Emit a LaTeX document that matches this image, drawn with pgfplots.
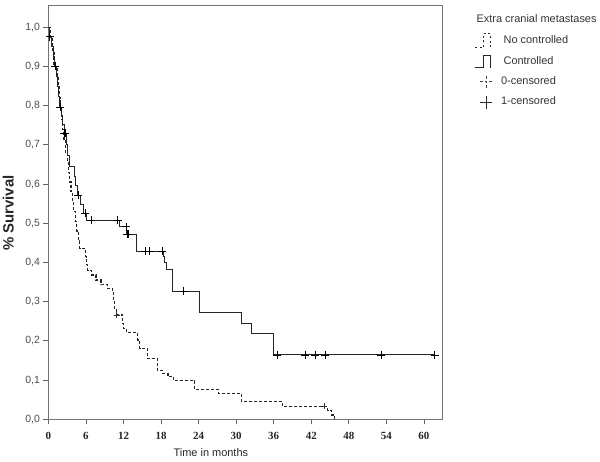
\documentclass[border=0pt]{standalone}
\usepackage{fontspec}
\setmainfont{Liberation Sans}
\newfontfamily\serifnum{Liberation Serif}
\usepackage{pgfplots}
\pgfplotsset{compat=1.18}
\begin{document}
\begin{tikzpicture}
\begin{axis}[
  scale only axis, width=394.3bp, height=413.3bp,
  xmin=0, xmax=63, ymin=0, ymax=1.054,
  xtick={0,6,12,18,24,30,36,42,48,54,60},
  ytick={0,0.1,0.2,0.3,0.4,0.5,0.6,0.7,0.8,0.9,1.0},
  xtick pos=bottom, ytick pos=left,
  tick align=outside, major tick length=5bp,
  tick style={black!60, line width=0.8bp},
  axis line style={black!55, line width=1bp},
  y tick label style={font=\fontsize{10.5}{12}\selectfont, text=black!70,
    /pgf/number format/.cd, fixed, fixed zerofill, precision=1, use comma, assume math mode=true},
  x tick label style={font=\serifnum\bfseries\fontsize{11}{13}\selectfont, text=black!85, yshift=-4bp,
    /pgf/number format/assume math mode=true},
  xlabel={Time in months},
  xlabel style={at={(axis description cs:0.412,-0.0815)}, anchor=center, font=\fontsize{11}{13}\selectfont, text=black!85},
  ylabel={\% Survival},
  ylabel style={at={(axis description cs:-0.1017,0.499)}, anchor=center, font=\bfseries\fontsize{15}{17}\selectfont, text=black!85},
  legend style={draw=none, fill=none, at={(axis description cs:1,1)}, anchor=north west,
    xshift=32.3bp, yshift=-8bp, inner sep=0pt, outer sep=0pt, row sep=7bp, column sep=10bp,
    font=\fontsize{11}{13}\selectfont, text=black!80,
    nodes={inner sep=1bp, text height=8bp, text depth=2.5bp}},
  legend cell align=left,
]
% No controlled (dashed)
\addplot[forget plot, const plot, black!85, line width=1.2bp, dash pattern=on 3bp off 2bp] coordinates {
(0,1)(0.3,0.97)(0.6,0.94)(0.9,0.90)(1.4,0.875)(1.6,0.85)(1.75,0.82)(1.9,0.79)(2.1,0.765)(2.3,0.74)(2.5,0.71)(2.7,0.68)(3.0,0.655)(3.2,0.63)(3.4,0.605)(3.6,0.58)(3.8,0.555)(4.0,0.53)(4.3,0.505)(4.55,0.48)(4.8,0.455)(5.0,0.435)(5.9,0.415)(6.05,0.395)(6.3,0.38)(6.9,0.368)(7.6,0.355)(8.4,0.343)(9.5,0.334)(10.2,0.322)(10.4,0.30)(10.6,0.28)(10.9,0.266)(11.8,0.244)(12.0,0.232)(12.5,0.221)(14.3,0.202)(14.6,0.18)(15.8,0.156)(17.4,0.124)(18.3,0.117)(19.1,0.109)(20.0,0.098)(23.4,0.077)(27.2,0.066)(30.8,0.045)(37.4,0.033)(44.6,0.022)(45.2,0.011)(45.7,0)
};
\addplot[forget plot, only marks, mark=+, mark size=3bp, black!80, mark options={line width=0.7bp}] coordinates {
(10.9,0.266)(44.1,0.033)
};
% Controlled (solid)
\addplot[forget plot, const plot, black!85, line width=1bp] coordinates {
(0,1)(0.15,0.976)(0.45,0.95)(0.75,0.925)(1.0,0.90)(1.25,0.874)(1.45,0.848)(1.65,0.822)(1.8,0.796)(2.05,0.774)(2.3,0.752)(2.55,0.73)(2.9,0.70)(3.1,0.672)(3.4,0.644)(4.1,0.62)(4.4,0.596)(4.7,0.572)(5.2,0.548)(5.6,0.525)(6.1,0.507)(11.3,0.491)(12.5,0.472)(14.1,0.428)(18.35,0.415)(18.6,0.40)(18.9,0.381)(19.8,0.327)(24.2,0.272)(30.8,0.245)(32.4,0.218)(36.0,0.164)(61.7,0.164)
};
\addplot[forget plot, only marks, mark=+, mark size=4bp, black, mark options={line width=0.8bp}] coordinates {
(0.2,0.976)(1.05,0.90)(1.85,0.796)(2.5,0.73)(2.7,0.73)(4.8,0.572)(5.9,0.525)(6.8,0.507)(11.1,0.507)(12.4,0.491)(12.55,0.472)(12.75,0.472)(15.5,0.428)(16.2,0.428)(18.2,0.428)(21.6,0.327)(36.6,0.164)(41.0,0.164)(42.6,0.164)(44.2,0.164)(53.2,0.164)(61.7,0.164)
};
% Legend
\addlegendimage{empty legend}
\addlegendentry{\hspace*{-27bp}Extra cranial metastases}
\addlegendimage{legend image code/.code={\draw[black!85, line width=0.9bp, dash pattern=on 2bp off 2.5bp] (0bp,-7bp) -- (8bp,-7bp) -- (8bp,7bp) -- (15bp,7bp) -- (15bp,-6bp);}}
\addlegendentry{No controlled}
\addlegendimage{legend image code/.code={\draw[black!85, line width=0.9bp] (0bp,-6bp) -- (8bp,-6bp) -- (8bp,6bp) -- (15bp,6bp) -- (15bp,-6bp);}}
\addlegendentry{Controlled}
\addlegendimage{legend image code/.code={\draw[black!75, line width=0.8bp, dash pattern=on 2.5bp off 2bp] (4.7bp,0bp) -- (16.7bp,0bp) (10.7bp,-6bp) -- (10.7bp,6bp);}}
\addlegendentry{\hspace*{-2.5bp}0-censored}
\addlegendimage{legend image code/.code={\draw[black!85, line width=0.9bp] (4.7bp,0bp) -- (16.7bp,0bp) (10.7bp,-6.5bp) -- (10.7bp,6.5bp);}}
\addlegendentry{\hspace*{-2.5bp}1-censored}
\end{axis}
\pgfresetboundingbox
\path[use as bounding box] (-48.4bp,-42.7bp) rectangle (551.6bp,419.3bp);
\end{tikzpicture}
\end{document}
